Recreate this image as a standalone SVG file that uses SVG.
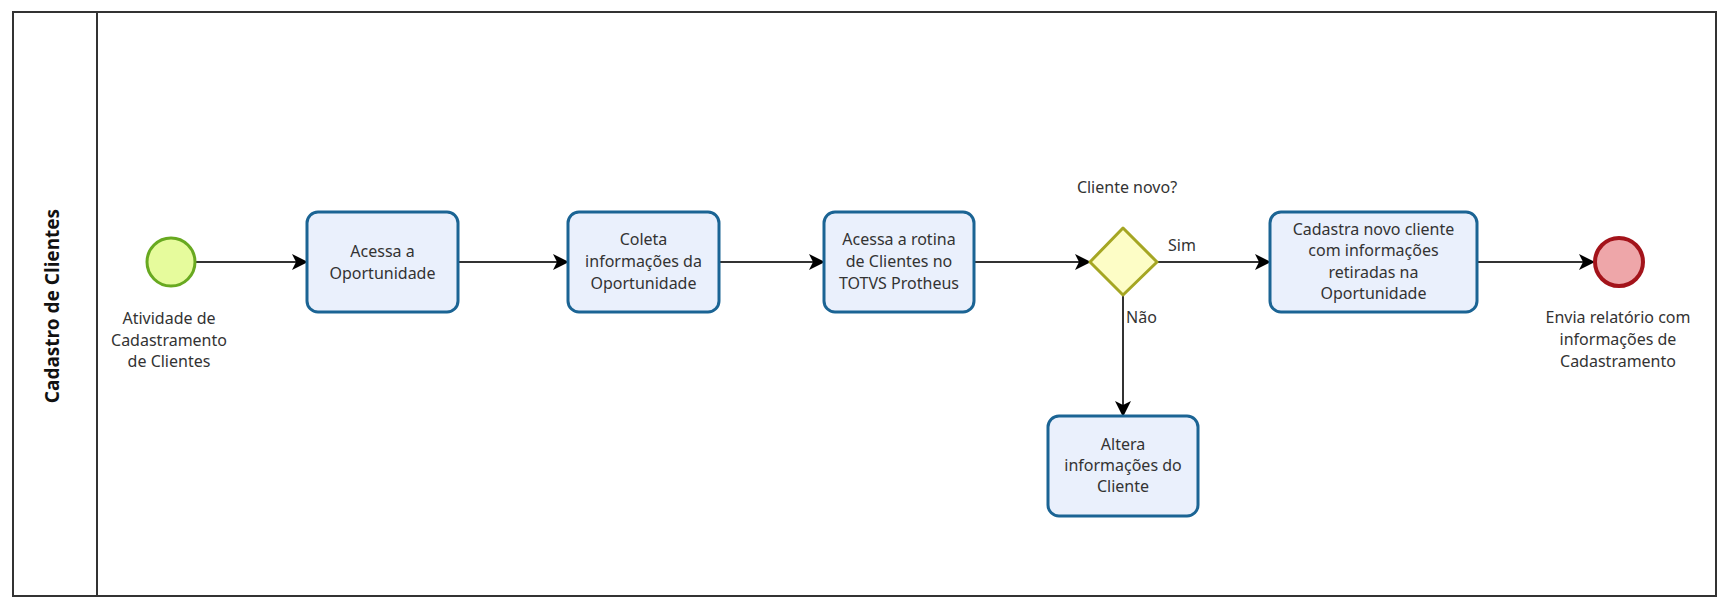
<svg xmlns="http://www.w3.org/2000/svg" width="1726" height="612" viewBox="0 0 1726 612">
<defs>
<marker id="arr" viewBox="0 0 16 16" refX="15" refY="8" markerWidth="16" markerHeight="16" markerUnits="userSpaceOnUse" orient="auto">
<path d="M0,0 L16,8 L0,16 L4,8 z" fill="#000"/>
</marker>
<style>
.t{font-family:"Noto Sans","Open Sans","DejaVu Sans",sans-serif;font-size:16px;fill:#333;text-anchor:middle}
.l{font-family:"Noto Sans","Open Sans","DejaVu Sans",sans-serif;font-size:16px;fill:#333}
.task{fill:#eaf0fc;stroke:#1b6494;stroke-width:3}
.c{fill:none;stroke:#333;stroke-width:2;marker-end:url(#arr)}
</style>
</defs>
<rect width="1726" height="612" fill="#fff"/>
<g id="pool">
<rect x="13" y="12" width="1703" height="584" fill="none" stroke="#333" stroke-width="2"/>
<line x1="97" y1="12" x2="97" y2="596" stroke="#333" stroke-width="2"/>
<text transform="translate(59,306) rotate(-90)" style="font-family:'Noto Sans','Open Sans','DejaVu Sans',sans-serif;font-size:19px;font-weight:bold;fill:#111;text-anchor:middle">Cadastro de Clientes</text>
</g>
<g id="connectors">
<line class="c" x1="195" y1="262" x2="307" y2="262"/>
<line class="c" x1="458" y1="262" x2="568" y2="262"/>
<line class="c" x1="719" y1="262" x2="824" y2="262"/>
<line class="c" x1="974" y1="262" x2="1090" y2="262"/>
<line class="c" x1="1157" y1="262" x2="1270" y2="262"/>
<line class="c" x1="1477" y1="262" x2="1594" y2="262"/>
<line class="c" x1="1123" y1="295" x2="1123" y2="416"/>
<text class="l" x="1168" y="251">Sim</text>
<text class="l" x="1126" y="323">Não</text>
</g>
<g id="start">
<circle cx="171" cy="262" r="24" fill="#e6fb9c" stroke="#68a920" stroke-width="3"/>
<text class="t" x="169" y="324">Atividade de</text>
<text class="t" x="169" y="346">Cadastramento</text>
<text class="t" x="169" y="367">de Clientes</text>
</g>
<g id="task1">
<rect class="task" x="307" y="212" width="151" height="100" rx="11"/>
<text class="t" x="382.5" y="257">Acessa a</text>
<text class="t" x="382.5" y="279">Oportunidade</text>
</g>
<g id="task2">
<rect class="task" x="568" y="212" width="151" height="100" rx="11"/>
<text class="t" x="643.5" y="245">Coleta</text>
<text class="t" x="643.5" y="267">informações da</text>
<text class="t" x="643.5" y="289">Oportunidade</text>
</g>
<g id="task3">
<rect class="task" x="824" y="212" width="150" height="100" rx="11"/>
<text class="t" x="899" y="245">Acessa a rotina</text>
<text class="t" x="899" y="267">de Clientes no</text>
<text class="t" x="899" y="289">TOTVS Protheus</text>
</g>
<g id="gateway">
<polygon points="1123,228 1157,262 1123,295 1090,262" fill="#fdfdc6" stroke="#a5a623" stroke-width="3" stroke-linejoin="round"/>
<text class="t" x="1127" y="193">Cliente novo?</text>
</g>
<g id="task4">
<rect class="task" x="1270" y="212" width="207" height="100" rx="11"/>
<text class="t" x="1373.5" y="235">Cadastra novo cliente</text>
<text class="t" x="1373.5" y="256">com informações</text>
<text class="t" x="1373.5" y="278">retiradas na</text>
<text class="t" x="1373.5" y="299">Oportunidade</text>
</g>
<g id="task5">
<rect class="task" x="1048" y="416" width="150" height="100" rx="11"/>
<text class="t" x="1123" y="450">Altera</text>
<text class="t" x="1123" y="471">informações do</text>
<text class="t" x="1123" y="492">Cliente</text>
</g>
<g id="end">
<circle cx="1619" cy="262" r="24" fill="#eea6a9" stroke="#a3131a" stroke-width="4"/>
<text class="t" x="1618" y="323">Envia relatório com</text>
<text class="t" x="1618" y="345">informações de</text>
<text class="t" x="1618" y="367">Cadastramento</text>
</g>
</svg>
